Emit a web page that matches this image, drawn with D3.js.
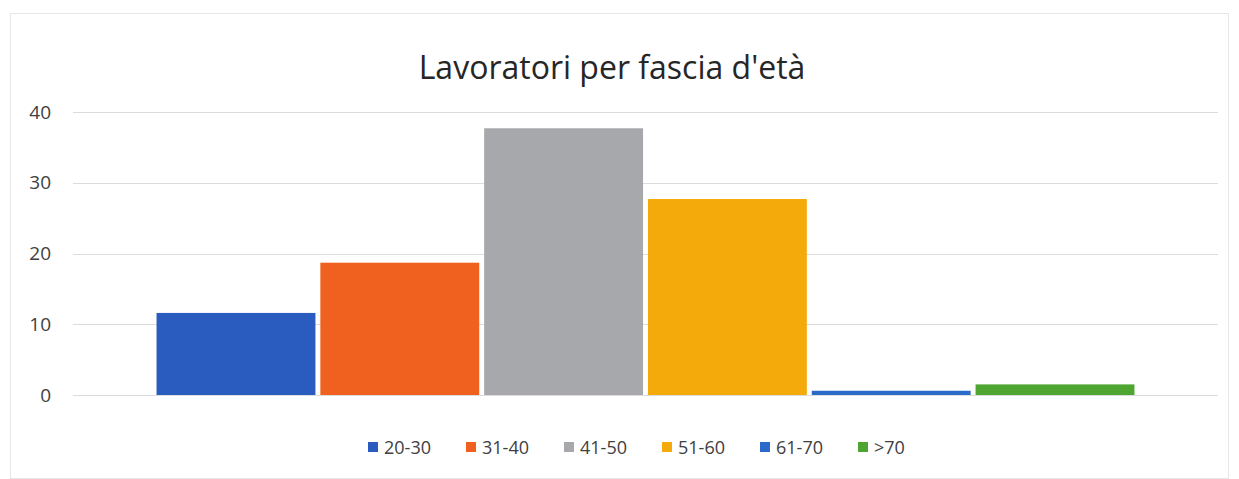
<!DOCTYPE html>
<html>
<head>
<meta charset="utf-8">
<script src="https://cdn.jsdelivr.net/npm/d3@7"></script>
<style>
  body { margin: 0; background: #fff; }
  text { font-family: "Open Sans", "Noto Sans", sans-serif; }
</style>
</head>
<body>
<div id="chart"></div>
<script>
var series = ["20-30", "31-40", "41-50", "51-60", "61-70", ">70"];
var values = [11.6, 18.7, 37.7, 27.7, 0.6, 1.5];
var colors = ["#2a5cc0", "#f0601e", "#a6a8ab", "#f5aa0c", "#2a6ac8", "#4ea532"];
var yTicks = [0, 10, 20, 30, 40];

var width = 1239, height = 479;
var margin = {top: 112, left: 73, bottom: 83, right: 21};

var svg = d3.select("#chart").append("svg")
  .attr("width", width)
  .attr("height", height);

// chart frame
svg.append("rect")
  .attr("x", 10.5).attr("y", 13.5)
  .attr("width", width - 21).attr("height", height - 14)
  .attr("fill", "none")
  .attr("stroke", "#e6e6e6");

var y = d3.scaleLinear()
  .domain([0, 40])
  .range([height - margin.bottom - 1, margin.top]);

var x = d3.scaleBand()
  .domain(series)
  .range([margin.left, width - margin.right])
  .paddingInner(0.03)
  .paddingOuter(0.51);

// gridlines
svg.append("g")
  .selectAll("line")
  .data(yTicks)
  .enter().append("line")
  .attr("x1", margin.left)
  .attr("x2", width - margin.right)
  .attr("y1", function(d) { return Math.round(y(d)) + 0.5; })
  .attr("y2", function(d) { return Math.round(y(d)) + 0.5; })
  .attr("stroke", "#dcdcdc")
  .attr("stroke-width", 1);

// y labels
var yAxis = d3.axisLeft(y).tickValues(yTicks).tickSize(0).tickPadding(0);
var ya = svg.append("g")
  .attr("transform", "translate(51,0)")
  .call(yAxis);
ya.select(".domain").remove();
ya.selectAll("text")
  .attr("font-size", "19px")
  .attr("fill", "#404040")
  .style("font-family", "'Open Sans', sans-serif");

// bars
svg.append("g")
  .selectAll("rect")
  .data(values)
  .enter().append("rect")
  .attr("x", function(d, i) { return x(series[i]); })
  .attr("width", x.bandwidth())
  .attr("y", function(d) { return y(d); })
  .attr("height", function(d) { return y(0) - y(d); })
  .attr("fill", function(d, i) { return colors[i]; });

// title
svg.append("text")
  .attr("x", 612)
  .attr("y", 79)
  .attr("text-anchor", "middle")
  .attr("font-size", "32px")
  .attr("fill", "#262626")
  .text("Lavoratori per fascia d'età");

// legend
var legendX = [368, 466, 564, 662, 760, 858];
var legend = svg.append("g")
  .selectAll("g")
  .data(series)
  .enter().append("g")
  .attr("transform", function(d, i) { return "translate(" + legendX[i] + ",447)"; });

legend.append("rect")
  .attr("x", 0).attr("y", -5)
  .attr("width", 10).attr("height", 10)
  .attr("fill", function(d, i) { return colors[i]; });

legend.append("text")
  .attr("x", 16)
  .attr("y", 6.5)
  .attr("font-size", "18px")
  .attr("fill", "#404040")
  .text(function(d) { return d; });
</script>
</body>
</html>
